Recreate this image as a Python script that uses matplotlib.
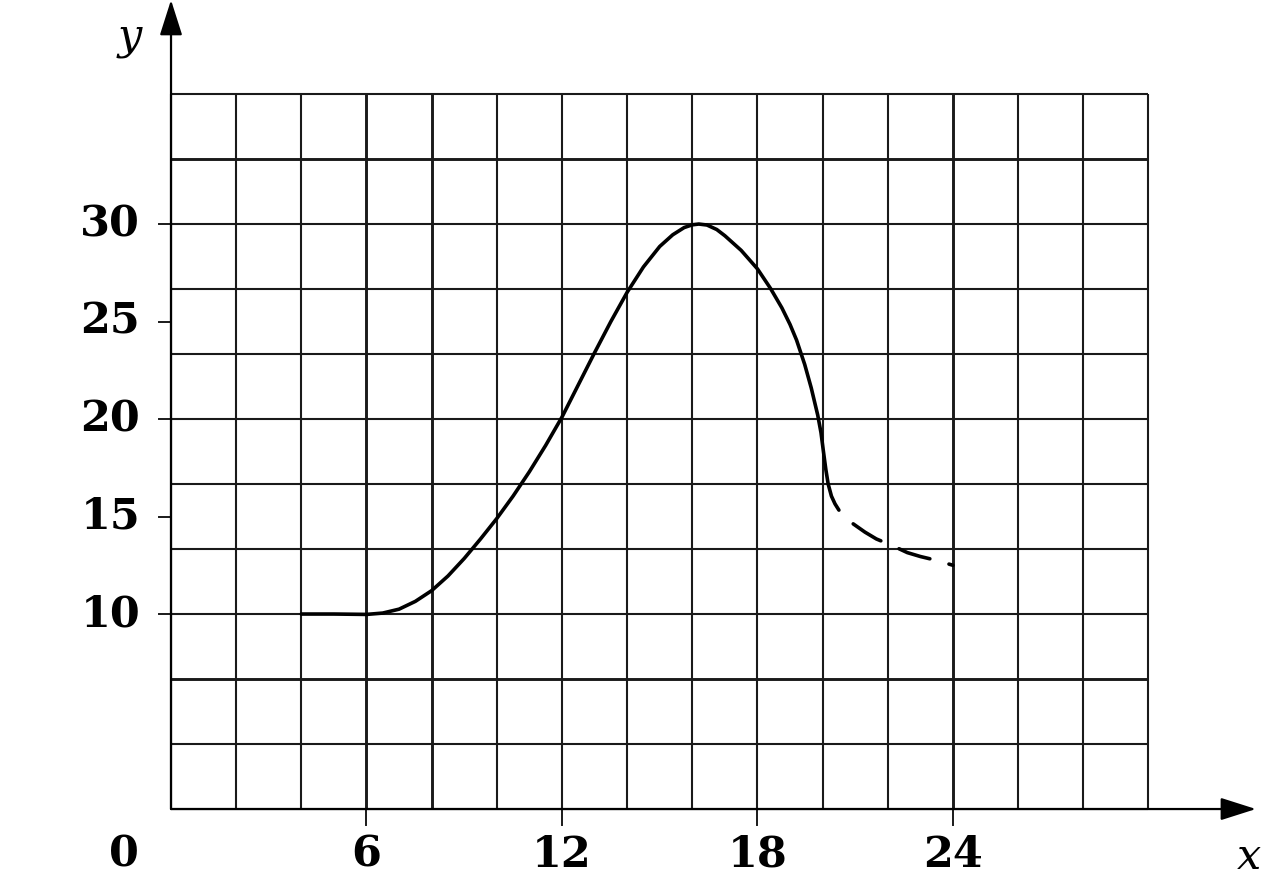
import matplotlib
matplotlib.use("Agg")
import matplotlib.pyplot as plt

# ---- data ----
solid_x = [4.0, 5.0, 6.0, 6.5, 7.0, 7.5, 8.0, 8.5, 9.0, 9.5, 10.0, 10.5, 11.0, 11.5, 12.0,
           12.5, 13.0, 13.5, 14.0, 14.5, 15.0, 15.4, 15.75, 16.0, 16.2, 16.45, 16.75, 17.0,
           17.5, 18.0, 18.4, 18.75, 19.0, 19.2, 19.45, 19.65, 19.85, 19.95, 20.02, 20.1,
           20.17, 20.27, 20.38, 20.5]
solid_y = [10.0, 10.0, 9.98, 10.05, 10.25, 10.65, 11.2, 11.95, 12.85, 13.85, 14.9, 16.05,
           17.3, 18.65, 20.1, 21.75, 23.4, 25.0, 26.5, 27.8, 28.85, 29.45, 29.82, 29.96,
           30.0, 29.95, 29.72, 29.4, 28.65, 27.7, 26.7, 25.7, 24.85, 24.05, 22.8, 21.6,
           20.2, 19.3, 18.4, 17.4, 16.67, 16.05, 15.65, 15.33]
dash_x = [20.5, 20.9, 21.3, 21.65, 22.15, 22.6, 23.0, 23.5, 24.0]
dash_y = [15.33, 14.67, 14.2, 13.85, 13.5, 13.15, 12.95, 12.75, 12.5]

x_ticks = [6, 12, 18, 24]
x_tick_labels = ["6", "12", "18", "24"]
y_ticks = [10, 15, 20, 25, 30]
y_tick_labels = ["10", "15", "20", "25", "30"]

grid_x = list(range(0, 31, 2))
grid_y = [k * 10 / 3 for k in range(12)]
thick_x = [6, 8, 24]
thick_y = [20 / 3, 100 / 3]

# ---- figure ----
W, H, DPI = 1282, 888, 100
fig = plt.figure(figsize=(W / DPI, H / DPI), dpi=DPI)
ax = fig.add_axes([0, 0, 1, 1])
ax.set_xlim(-5.249, 34.10)
ax.set_ylim(-4.05, 41.49)
ax.axis("off")

gcol = "#1a1a1a"
ytop = grid_y[-1]
for gx in grid_x:
    lw = 2.1 if gx in thick_x else 1.5
    ax.plot([gx, gx], [0, ytop], color=gcol, lw=lw, solid_capstyle="butt", zorder=1)
for gy in grid_y:
    lw = 2.1 if any(abs(gy - t) < 1e-6 for t in thick_y) else 1.5
    ax.plot([0, 30], [gy, gy], color=gcol, lw=lw, solid_capstyle="butt", zorder=1)

# axes with arrows
ax.annotate("", xy=(33.3, 0), xytext=(0, 0),
            arrowprops=dict(arrowstyle="-|>,head_length=1.1,head_width=0.35",
                            color="black", lw=1.6, mutation_scale=20,
                            shrinkA=0, shrinkB=0), zorder=3)
ax.annotate("", xy=(0, 41.49), xytext=(0, 0),
            arrowprops=dict(arrowstyle="-|>,head_length=1.1,head_width=0.35",
                            color="black", lw=1.6, mutation_scale=20,
                            shrinkA=0, shrinkB=0), zorder=3)

# tick marks
for tx in x_ticks:
    ax.plot([tx, tx], [0, -0.8], color=gcol, lw=1.4, zorder=2)
for ty in y_ticks:
    ax.plot([-0.37, 0], [ty, ty], color=gcol, lw=1.4, zorder=2)

font = dict(family="DejaVu Serif", fontweight="bold", fontsize=31)
for tx, lab in zip(x_ticks, x_tick_labels):
    ax.text(tx, -2.35, lab, ha="center", va="center", **font)
ax.text(-1.44, -2.35, "0", ha="center", va="center", **font)
for ty, lab in zip(y_ticks, y_tick_labels):
    ax.text(-0.95, ty, lab, ha="right", va="center", **font)

ax.text(-1.26, 39.6, "y", ha="center", va="center", family="DejaVu Serif",
        style="italic", fontsize=31)
ax.text(33.1, -2.45, "x", ha="center", va="center", family="DejaVu Serif",
        style="italic", fontsize=31)

# curve
ax.plot(solid_x, solid_y, color="black", lw=2.6, zorder=4,
        solid_capstyle="round", solid_joinstyle="round")
ax.plot(dash_x, dash_y, color="black", lw=2.6, zorder=4,
        linestyle=(9, (9, 5.5)), dash_capstyle="round")

fig.savefig("out.png", dpi=DPI, facecolor="white")
